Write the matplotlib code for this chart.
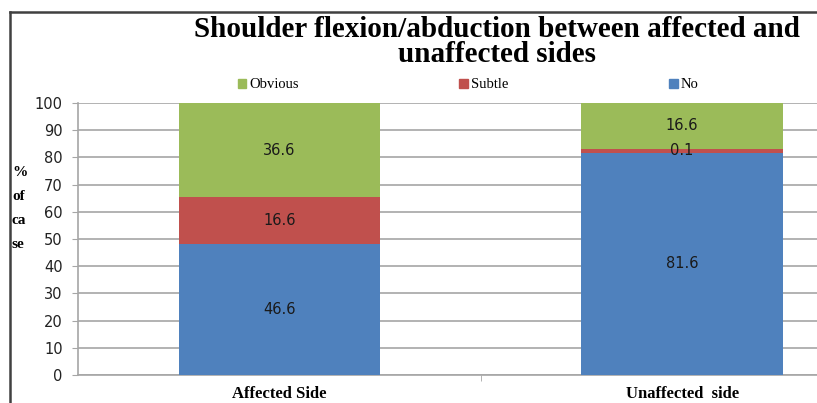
import numpy as np
import matplotlib.pyplot as plt
from matplotlib.lines import Line2D

# Données
categories = ['Affected Side', 'Unaffected  side']
series = ['Obvious', 'Subtle', 'No']
no_vals = [48.1, 81.7]        # hauteur des barres bleues
subtle_vals = [17.3, 1.5]     # hauteur des barres rouges
obvious_vals = [34.6, 16.8]   # hauteur des barres vertes
no_labels = ['46.6', '81.6']
subtle_labels = ['16.6', '0.1']
obvious_labels = ['36.6', '16.6']
yticks = list(range(0, 101, 10))

c_blue = '#4F81BD'
c_red = '#C0504D'
c_green = '#9BBB59'

W, H = 817, 403
fig = plt.figure(figsize=(W / 100, H / 100), dpi=100)

# zone de tracé (dépasse à droite comme dans l'original)
x0, x1, y0, y1 = 78, 883.5, 375, 103
ax = fig.add_axes([x0 / W, (H - y0) / H, (x1 - x0) / W, (y0 - y1) / H])

x = np.arange(len(categories))
w = 0.5
b1 = ax.bar(x, no_vals, w, color=c_blue, zorder=3)
b2 = ax.bar(x, subtle_vals, w, bottom=no_vals, color=c_red, zorder=3)
bottom3 = [a + b for a, b in zip(no_vals, subtle_vals)]
b3 = ax.bar(x, obvious_vals, w, bottom=bottom3, color=c_green, zorder=3)

for bars, labs in [(b1, no_labels), (b2, subtle_labels), (b3, obvious_labels)]:
    ax.bar_label(bars, labels=labs, label_type='center', fontsize=10.5,
                 family='DejaVu Sans', color='#1a1a1a', zorder=4)

ax.set_xlim(-0.5, 1.5)
ax.set_ylim(0, 100)
ax.set_yticks(yticks)
ax.yaxis.grid(True, color='#a6a6a6', lw=1.2, zorder=0)
ax.tick_params(axis='y', length=4, color='#a6a6a6', labelsize=10.5, pad=7)
for lab in ax.get_yticklabels():
    lab.set_family('DejaVu Sans')
    lab.set_color('#222222')

ax.set_xticks(x)
ax.set_xticklabels(categories, fontsize=12, fontweight='bold', family='Liberation Serif')
ax.tick_params(axis='x', length=0, pad=8)
ax.set_xticks([0.5], minor=True)
ax.tick_params(axis='x', which='minor', length=4, color='#a6a6a6')

for s in ['top', 'right']:
    ax.spines[s].set_visible(False)
for s in ['left', 'bottom']:
    ax.spines[s].set_color('#a6a6a6')
    ax.spines[s].set_linewidth(1.2)

# cadre du graphique
fig.add_artist(Line2D([10 / W, 10 / W], [0, 1 - 12 / H], color='#404040', lw=1.8))
fig.add_artist(Line2D([10 / W, 1], [1 - 12 / H, 1 - 12 / H], color='#404040', lw=1.8))

fig.text(497 / W, 1 - 42 / H, 'Shoulder flexion/abduction between affected and\nunaffected sides',
         ha='center', va='center', fontsize=21, fontweight='bold',
         family='Liberation Serif', linespacing=0.95)

fig.text(12 / W, 1 - 208 / H, '%\nof\nca\nse', ha='left', va='center', fontsize=11,
         fontweight='bold', family='Liberation Serif', linespacing=2.1)

handles = [plt.Rectangle((0, 0), 1, 1, color=c) for c in [c_green, c_red, c_blue]]
fig.legend(handles, series, loc='center', bbox_to_anchor=(468 / W, 1 - 85 / H), ncol=3,
           frameon=False, handlelength=0.6, handleheight=0.6, handletextpad=0.2,
           columnspacing=11, prop={'family': 'Liberation Serif', 'size': 10.5})

fig.savefig('out.png', dpi=100)
